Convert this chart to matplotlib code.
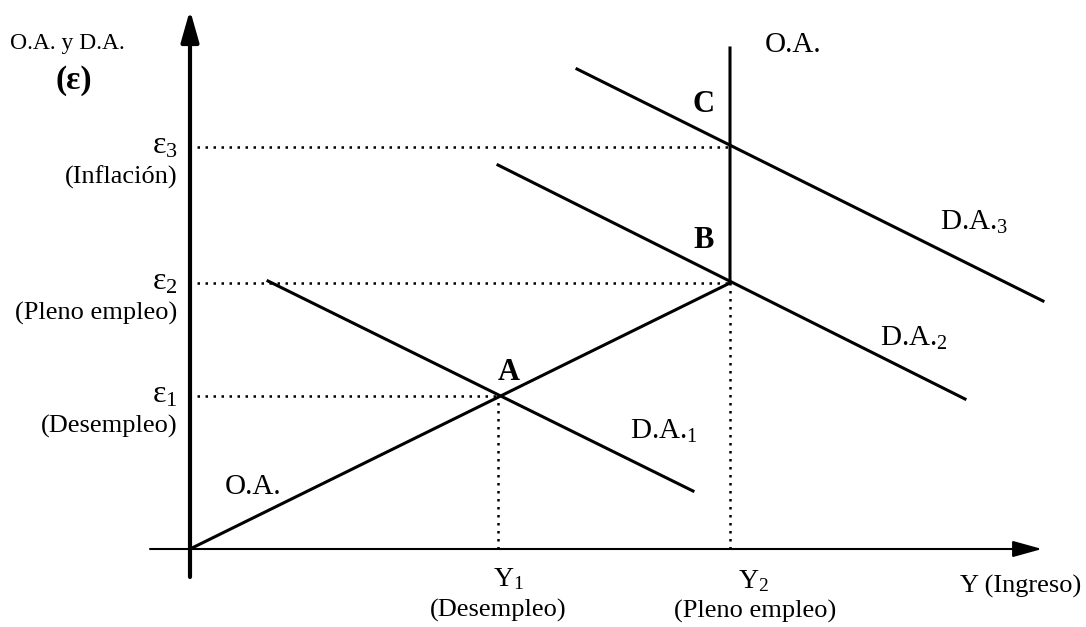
import numpy as np
import matplotlib
matplotlib.use("Agg")
import matplotlib.pyplot as plt

plt.rcParams['font.family'] = ['Liberation Serif', 'DejaVu Serif']
plt.rcParams['mathtext.fontset'] = 'custom'
plt.rcParams['mathtext.rm'] = 'Liberation Serif'
plt.rcParams['mathtext.it'] = 'Liberation Serif:italic'

# Niveles de precios (eje vertical) e ingreso (eje horizontal)
eps_levels = [153, 266, 402]          # e1, e2, e3
eps_labels = ["ε$_\\mathrm{1}$", "ε$_\\mathrm{2}$", "ε$_\\mathrm{3}$"]
eps_notes = ["(Desempleo)", "(Pleno empleo)", "(Inflación)"]
y_income = [308, 540]                 # Y1, Y2
y_labels = ["Y$_\\mathrm{1}$", "Y$_\\mathrm{2}$"]
y_notes = ["(Desempleo)", "(Pleno empleo)"]

# Oferta agregada: tramo creciente y tramo vertical en pleno empleo
oa_x = [0, 540, 540]
oa_y = [0, 266, 501]

# Demandas agregadas (extremos de cada recta)
da1_x = [78, 503]
da1_y = [268, 58]
da2_x = [308, 775]
da2_y = [384, 150]
da3_x = [387, 853]
da3_y = [480, 248]

# Equilibrios
eq_names = ["A", "B", "C"]
eq_x = [308, 540, 540]
eq_y = [153, 266, 402]

fig = plt.figure(figsize=(10.86, 6.27), dpi=100)
ax = fig.add_axes([0, 0, 1, 1])
ax.set_xlim(-190, 896)
ax.set_ylim(-78, 549)
ax.axis("off")

# ejes con flecha
ax.annotate("", xy=(0, 539), xytext=(0, -28),
            arrowprops=dict(arrowstyle="-|>,head_length=0.95,head_width=0.27",
                            lw=3, color="black", mutation_scale=20,
                            shrinkA=0, shrinkB=0))
ax.annotate("", xy=(852, 0), xytext=(-40, 0),
            arrowprops=dict(arrowstyle="-|>,head_length=0.9,head_width=0.25",
                            lw=1.5, color="black", mutation_scale=20,
                            shrinkA=0, shrinkB=0))

# curvas
lw = 2.2
ax.plot(oa_x, oa_y, color="black", lw=lw, solid_joinstyle="miter")
ax.plot(da1_x, da1_y, color="black", lw=lw)
ax.plot(da2_x, da2_y, color="black", lw=lw)
ax.plot(da3_x, da3_y, color="black", lw=lw)

# guias punteadas
dots = (0, (1, 2.2))
for ex, ey in zip(eq_x, eq_y):
    ax.plot([7, ex], [ey, ey], color="black", lw=1.8, linestyle=dots)
for yx, yy in zip(y_income, eps_levels[:2]):
    ax.plot([yx, yx], [0, yy], color="black", lw=1.8, linestyle=dots)

# textos eje vertical
ax.text(-180, 506, "O.A. y D.A.", fontsize=17, va="center", ha="left")
ax.text(-116, 469, "(ε)", fontsize=24, fontweight="bold", va="center", ha="center")
for lev, lab, note in zip(eps_levels, eps_labels, eps_notes):
    ax.text(-12, lev + 1, lab, fontsize=23, va="center", ha="right")
    ax.text(-13, lev - 30, note, fontsize=19, va="center", ha="right")

# textos eje horizontal
ax.text(303, -30, y_labels[0], fontsize=20, va="center", ha="left")
ax.text(548, -32, y_labels[1], fontsize=20, va="center", ha="left")
ax.text(308, -61, y_notes[0], fontsize=19, va="center", ha="center")
ax.text(565, -62, y_notes[1], fontsize=19, va="center", ha="center")
ax.text(770, -37, "Y (Ingreso)", fontsize=19, va="center", ha="left")

# nombres de curvas
ax.text(35, 62, "O.A.", fontsize=21, va="center", ha="left")
ax.text(575, 504, "O.A.", fontsize=21, va="center", ha="left")
ax.text(440, 118, "D.A.$_\\mathrm{1}$", fontsize=21, va="center", ha="left")
ax.text(690, 211, "D.A.$_\\mathrm{2}$", fontsize=21, va="center", ha="left")
ax.text(750, 327, "D.A.$_\\mathrm{3}$", fontsize=21, va="center", ha="left")

# puntos de equilibrio
eq_offsets = [(0, 23), (-37, 43), (-37, 42)]
for name, ex, ey, (dx, dy) in zip(eq_names, eq_x, eq_y, eq_offsets):
    ax.text(ex + dx, ey + dy, name, fontsize=22, fontweight="bold",
            va="center", ha="left")

fig.savefig("out.png", dpi=100)
